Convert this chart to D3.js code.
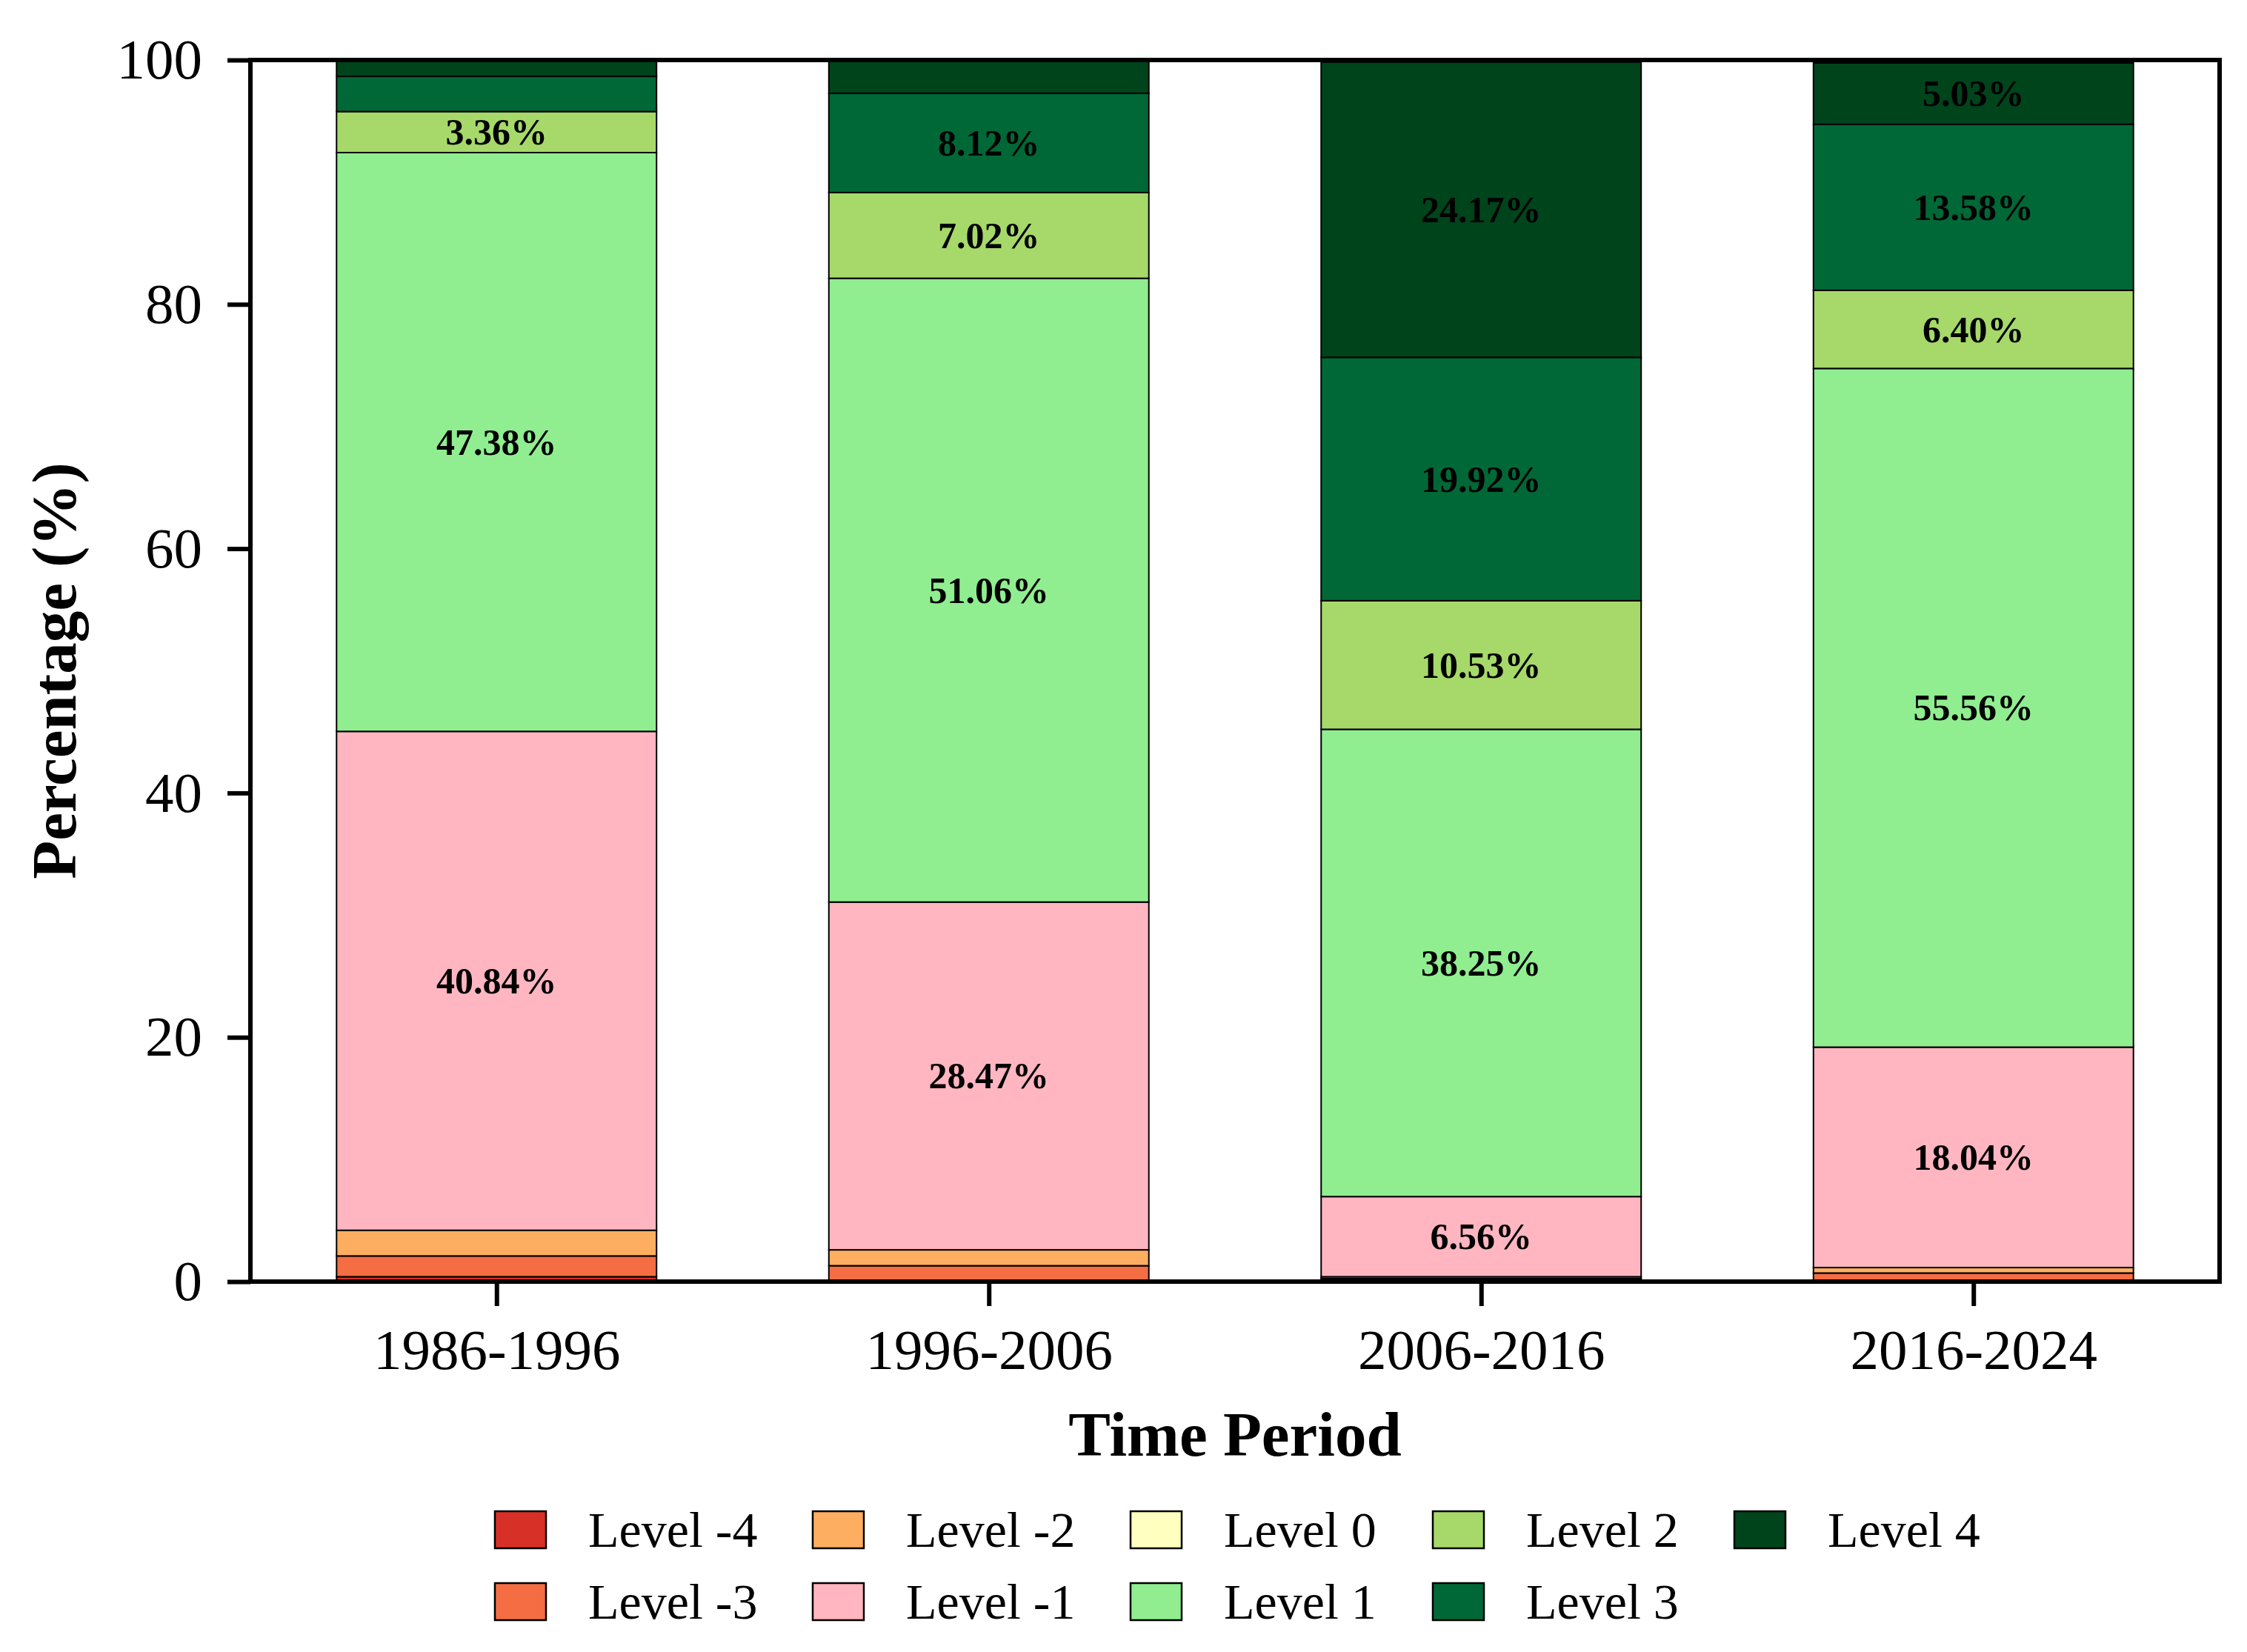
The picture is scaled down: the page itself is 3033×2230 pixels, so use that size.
<!DOCTYPE html>
<html>
<head>
<meta charset="utf-8">
<script src="https://cdn.jsdelivr.net/npm/d3@7"></script>
<style>
  html, body { margin: 0; padding: 0; background: #fff; }
  svg { display: block; }
  text { font-family: "Liberation Serif", "Times New Roman", serif; fill: #000; }
</style>
</head>
<body>
<svg id="chart" width="3033" height="2230"></svg>
<script>
// ---------------- DATA ----------------
const periods = ["1986-1996", "1996-2006", "2006-2016", "2016-2024"];
const levels = ["Level -4", "Level -3", "Level -2", "Level -1", "Level 0",
                "Level 1", "Level 2", "Level 3", "Level 4"];
const levelColors = ["#d73027", "#f46d43", "#fdae61", "#ffb6c1", "#ffffbf",
                     "#90ee90", "#a6d96a", "#006837", "#00441b"];
const levelM4 = [0.40, 0.10, 0.05, 0.10];
const levelM3 = [1.70, 1.20, 0.20, 0.60];
const levelM2 = [2.10, 1.30, 0.15, 0.45];
const levelM1 = [40.84, 28.47, 6.56, 18.04];
const level0  = [0, 0, 0, 0];
const level1  = [47.38, 51.06, 38.25, 55.56];
const level2  = [3.36, 7.02, 10.53, 6.40];
const level3  = [2.88, 8.12, 19.92, 13.58];
const level4  = [1.33, 2.70, 24.17, 5.03];
const yTicks = [0, 20, 40, 60, 80, 100];
const labelThreshold = 3;

const seriesValues = [levelM4, levelM3, levelM2, levelM1, level0, level1, level2, level3, level4];

// table for d3.stack
const table = periods.map((p, i) => {
  const row = { period: p };
  levels.forEach((l, k) => { row[l] = seriesValues[k][i]; });
  return row;
});

// ---------------- LAYOUT ----------------
const svg = d3.select("#chart");
const plot = { left: 338, right: 2996, top: 81, bottom: 1730 };

const x = d3.scaleLinear().domain([-0.5, periods.length - 0.5]).range([plot.left, plot.right]);
const y = d3.scaleLinear().domain([0, 100]).range([plot.bottom, plot.top]);
const barWidth = 0.65;
const color = d3.scaleOrdinal().domain(levels).range(levelColors);

svg.append("rect").attr("width", 3033).attr("height", 2230).attr("fill", "#fff");

const stacked = d3.stack().keys(levels)(table);

// bars
const gBars = svg.append("g");
stacked.forEach(layer => {
  gBars.selectAll(null)
    .data(layer)
    .join("rect")
    .attr("x", (d, i) => x(i - barWidth / 2))
    .attr("width", (d, i) => x(i + barWidth / 2) - x(i - barWidth / 2))
    .attr("y", d => y(d[1]))
    .attr("height", d => y(d[0]) - y(d[1]))
    .attr("fill", color(layer.key))
    .attr("stroke", "#000")
    .attr("stroke-width", 2);
});

// value labels
const gLabels = svg.append("g");
stacked.forEach(layer => {
  gLabels.selectAll(null)
    .data(layer.filter(d => (d[1] - d[0]) > labelThreshold))
    .join("text")
    .attr("x", d => x(periods.indexOf(d.data.period)))
    .attr("y", d => y((d[0] + d[1]) / 2))
    .attr("text-anchor", "middle")
    .attr("dominant-baseline", "central")
    .attr("font-size", 50)
    .attr("font-weight", "bold")
    .text(d => (d[1] - d[0]).toFixed(2) + "%");
});

// axes
const yAxis = d3.axisLeft(y).tickValues(yTicks).tickSize(31).tickPadding(34).tickFormat(d3.format("d"));
const gy = svg.append("g").attr("transform", `translate(${plot.left},0)`).call(yAxis);
gy.select(".domain").remove();
gy.selectAll(".tick line").attr("stroke", "#000").attr("stroke-width", 6);
gy.selectAll(".tick text").attr("font-size", 77).attr("font-family", "Liberation Serif").attr("fill", "#000");

const xAxis = d3.axisBottom(x).tickValues(d3.range(periods.length)).tickSize(33).tickPadding(30)
  .tickFormat(i => periods[i]);
const gx = svg.append("g").attr("transform", `translate(0,${plot.bottom})`).call(xAxis);
gx.select(".domain").remove();
gx.selectAll(".tick line").attr("stroke", "#000").attr("stroke-width", 6);
gx.selectAll(".tick text").attr("font-size", 77).attr("font-family", "Liberation Serif").attr("fill", "#000");

// spines (box)
svg.append("rect")
  .attr("x", plot.left).attr("y", plot.top)
  .attr("width", plot.right - plot.left).attr("height", plot.bottom - plot.top)
  .attr("fill", "none").attr("stroke", "#000").attr("stroke-width", 6);

// axis titles
svg.append("text")
  .attr("x", (plot.left + plot.right) / 2).attr("y", 1965)
  .attr("text-anchor", "middle").attr("font-size", 85).attr("font-weight", "bold")
  .text("Time Period");

svg.append("text")
  .attr("transform", `translate(102,${(plot.top + plot.bottom) / 2}) rotate(-90)`)
  .attr("text-anchor", "middle").attr("font-size", 85).attr("font-weight", "bold")
  .text("Percentage (%)");

// legend (column-major, 5 columns x 2 rows)
const legendColX = [668, 1097, 1526, 1934, 2341];
const legendRowY = [2040, 2137];
const sw = 69, sh = 50, textOffset = 126;
const gLeg = svg.append("g");
levels.forEach((l, k) => {
  const col = Math.floor(k / 2), row = k % 2;
  const gx0 = legendColX[col], gy0 = legendRowY[row];
  gLeg.append("rect")
    .attr("x", gx0).attr("y", gy0).attr("width", sw).attr("height", sh)
    .attr("fill", color(l)).attr("stroke", "#000").attr("stroke-width", 2.5);
  gLeg.append("text")
    .attr("x", gx0 + textOffset).attr("y", gy0 + sh - 2)
    .attr("font-size", 68)
    .text(l);
});
</script>
</body>
</html>
